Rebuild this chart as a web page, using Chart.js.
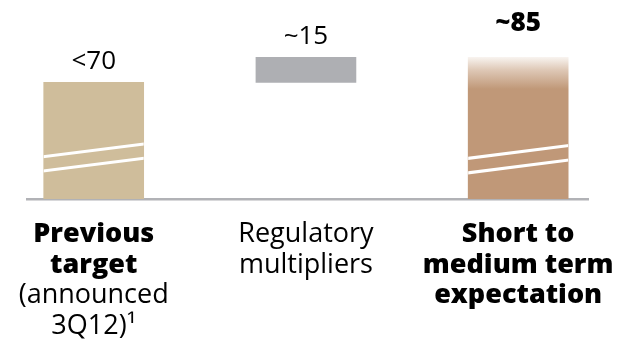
<!DOCTYPE html>
<html><head><meta charset="utf-8">
<script src="https://cdn.jsdelivr.net/npm/chart.js@4"></script>
<style>html,body{margin:0;padding:0;background:#fff}#wrap{width:622px;height:342px}</style>
</head><body><div id="wrap"><canvas id="c" width="622" height="342"></canvas></div>
<script>
// ---- data ----
const categories = [["Previous","target","(announced","3Q12)\u00B9"],["Regulatory","multipliers"],["Short to","medium term","expectation"]];
const boldLineCount = [2, 0, 3];
const positions = [0, 1, 2];
const barStart = [0, 70, 0];
const barEnd = [70, 85, 85];
const valueLabels = ["<70", "~15", "~85"];
const valueBold = [false, false, true];

// ---- styles ----
const FONT = "'Open Sans', 'Noto Sans', sans-serif";
const colors = ['#CFBD9B', '#AEAFB3', '#C09878'];

const dataPoints = positions.map((p, i) => ({ x: p, y: barStart[i] === 0 ? barEnd[i] : [barStart[i], barEnd[i]] }));

function barColor(ctx) {
  const i = ctx.dataIndex;
  if (i !== 2) return colors[i];
  const chart = ctx.chart;
  const ys = chart.scales.y;
  if (!ys || !chart.chartArea) return colors[i];
  const top = ys.getPixelForValue(barEnd[i]);
  const solid = ys.getPixelForValue(barEnd[i] - 19);
  const g = chart.ctx.createLinearGradient(0, top, 0, solid);
  g.addColorStop(0, '#F8F3EF');
  g.addColorStop(0.4, '#DEC8B6');
  g.addColorStop(1, colors[i]);
  return g;
}

const overlay = {
  id: 'overlay',
  afterDatasetsDraw(chart) {
    const ctx = chart.ctx;
    const meta = chart.getDatasetMeta(0);
    const ys = chart.scales.y;
    // break marks
    const breaks = { 0: [29.2, 20.6], 2: [28.2, 19.5] };
    Object.keys(breaks).forEach(k => {
      const bar = meta.data[k];
      const half = bar.width / 2;
      ctx.save();
      ctx.beginPath();
      ctx.rect(bar.x - half, 0, bar.width, chart.height);
      ctx.clip();
      ctx.strokeStyle = '#FFFFFF';
      ctx.lineWidth = 3;
      breaks[k].forEach(v => {
        const cy = ys.getPixelForValue(v);
        ctx.beginPath();
        ctx.moveTo(bar.x - half - 2, cy + 6.6);
        ctx.lineTo(bar.x + half + 2, cy - 6.6);
        ctx.stroke();
      });
      ctx.restore();
    });
    // value labels
    const gaps = [13, 13, 26.5];
    ctx.save();
    ctx.fillStyle = '#000';
    ctx.textAlign = 'center';
    ctx.textBaseline = 'alphabetic';
    meta.data.forEach((bar, i) => {
      ctx.font = (valueBold[i] ? '800 ' : '') + '26px ' + FONT;
      const top = ys.getPixelForValue(barEnd[i]);
      ctx.fillText(valueLabels[i], bar.x, top - gaps[i]);
    });
    // category labels
    const firstBase = 242, lineH = 30.5;
    meta.data.forEach((bar, i) => {
      categories[i].forEach((line, j) => {
        ctx.font = (j < boldLineCount[i] ? '800 ' : '') + '27px ' + FONT;
        ctx.fillText(line, bar.x, firstBase + j * lineH);
      });
    });
    ctx.restore();
  }
};

new Chart(document.getElementById('c'), {
  type: 'bar',
  data: {
    datasets: [{
      data: dataPoints,
      backgroundColor: barColor,
      borderWidth: 0,
      barThickness: 100
    }]
  },
  options: {
    responsive: false,
    devicePixelRatio: 1,
    animation: false,
    layout: { padding: { left: 27, right: 34, top: 0, bottom: 143 } },
    plugins: { legend: { display: false }, tooltip: { enabled: false } },
    scales: {
      x: {
        type: 'linear',
        min: -0.3143, max: 2.329,
        offset: false,
        ticks: { display: false },
        grid: { display: false, drawTicks: false },
        border: { display: true, color: '#B1B2B6', width: 2.5 }
      },
      y: {
        display: false,
        min: 0, max: 119.4
      }
    }
  },
  plugins: [overlay]
});
</script>
</body></html>
